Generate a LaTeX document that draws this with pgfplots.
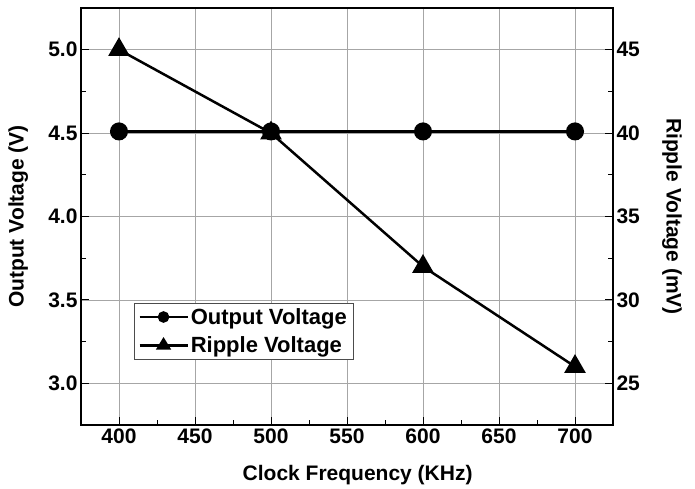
\documentclass[border=0pt]{standalone}
\usepackage{fontspec}
\setmainfont{Liberation Sans}
\usepackage{pgfplots}
\pgfplotsset{compat=1.18}
\begin{document}
\begin{tikzpicture}
\pgfplotsset{
  every axis/.append style={
    scale only axis, width=532pt, height=417pt,
    xmin=375, xmax=725,
    /pgf/number format/assume math mode=true,
    tick label style={font=\fontsize{21}{24}\selectfont\bfseries},
    label style={font=\fontsize{21}{24}\selectfont\bfseries},
    axis line style={line width=1.5pt},
    major tick length=8pt, minor tick length=5pt,
    tick style={line width=1pt, black},
    tick align=inside,
  }
}
\begin{axis}[
  ymin=2.75, ymax=5.25,
  xtick={400,450,...,700}, minor x tick num=1,
  ytick={3.0,3.5,...,5.0}, minor y tick num=1,
  xtick pos=bottom, ytick pos=left,
  yticklabel style={/pgf/number format/.cd, fixed, fixed zerofill, precision=1},
  grid=major, major grid style={gray!70, line width=0.5pt},
  xlabel={Clock Frequency (KHz)},
  ylabel={Output Voltage (V)},
  xlabel style={at={(axis description cs:0.52,-0.12)}, anchor=center},
  ylabel style={at={(axis description cs:-0.118,0.5)}, anchor=center, rotate=0},
]
\addplot[black, line width=3pt, mark=*, mark size=7.5pt, mark options={solid}] coordinates {
  (400,4.51) (500,4.51) (600,4.51) (700,4.51)
};
\end{axis}
\begin{axis}[
  ymin=22.5, ymax=47.5,
  axis x line=none,
  axis y line*=right,
  ytick={25,30,...,45}, minor y tick num=1,
  ylabel={Ripple Voltage (mV)},
  ylabel style={at={(axis description cs:1.111,0.5)}, anchor=center, rotate=180},
  legend style={at={(axis description cs:0.0996,0.2926)}, anchor=north west,
    draw=black!70, line width=0.6pt, font=\fontsize{22}{26}\selectfont\bfseries,
    row sep=7pt, inner xsep=4pt, inner ysep=3pt},
  legend cell align=left,
]
\addlegendimage{black, line width=2.5pt, legend image code/.code={
  \draw[black, line width=2.5pt] (0pt,0pt) -- (48pt,0pt);
  \fill[black] (24pt,0pt) circle (4.5pt);}}
\addlegendentry{Output Voltage}
\addplot[black, line width=2.5pt, mark=triangle*, mark size=10pt, mark options={solid},
  legend image code/.code={
  \draw[black, line width=2.5pt] (0pt,0pt) -- (48pt,0pt);
  \fill[black] (18.5pt,-3pt) -- (29.5pt,-3pt) -- (24pt,6pt) -- cycle;}] coordinates {
  (400,45) (500,40) (600,32) (700,26)
};
\addlegendentry{Ripple Voltage}
\end{axis}
\pgfresetboundingbox
\path[use as bounding box] (-81pt,-64pt) rectangle (614pt,425pt);
\end{tikzpicture}
\end{document}
